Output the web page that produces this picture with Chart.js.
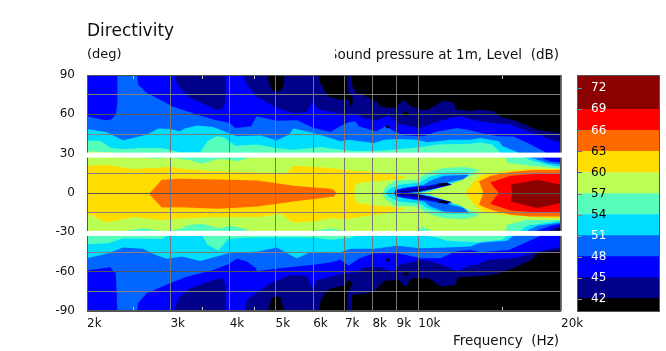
<!DOCTYPE html>
<html><head><meta charset="utf-8">
<style>html,body{margin:0;padding:0;background:#fff}#main{position:absolute;left:0;top:0}#bar{position:absolute;left:577px;top:75px}</style>
<script src="https://cdn.jsdelivr.net/npm/chart.js@4"></script></head>
<body><canvas id="main" width="666" height="351"></canvas><canvas id="bar" width="83" height="237"></canvas>
<script>
const FONT='"DejaVu Sans"';
const titleText='Directivity', yUnitText='(deg)', levelText='Sound pressure at 1m, Level  (dB)', freqText='Frequency  (Hz)';
const freqTicks=[2000,3000,4000,5000,6000,7000,8000,9000,10000,20000];
const minorFreqTicks=[2500,3500,4500,15000];
const angleLabels=[90,60,30,0,-30,-60,-90];
const maskedBands=[[27,30.8],[-32.7,-28.9]];
const levelColors={39:'#000000',42:'#000088',45:'#0000ff',48:'#0066ff',51:'#00ddff',54:'#55ffbb',57:'#bbff55',60:'#ffdd00',63:'#ff6a00',66:'#ff0000',69:'#8b0000'};
const scaleLabels=[72,69,66,63,60,57,54,51,48,45,42];
const scaleEdges=[40.1,42,45,48,51,54,57,60,63,66,69,73.9];
const scaleBandColors=['#000000','#000088','#0000ff','#0066ff','#00ddff','#55ffbb','#bbff55','#ffdd00','#ff6a00','#ff0000','#8b0000'];
const scaleLabelColors=['#fff','#fff','#fff','#000','#000','#000','#000','#fff','#fff','#fff','#fff'];
const scaleMarkColors=['#22aabb','#22aabb','#22aabb','#4477cc','#2255ff','#cc6633','#cc6644','#aa9966','#aa9933','#aa9933','#999999'];

const floorArea=[[2000,90],[20000,90],[20000,-90],[2000,-90]];
const level42=[[2000,90],[4807,90],[4850,84],[4900,79],[5034,77],[5150,79],[5200,83],[5213,90],[6140,90],[6210,84],[6456,73.8],[6844,71],[7100,71.8],[7160,68],[7230,65.6],[7280,68.7],[7250,73.3],[7130,76.4],[7100,79],[7070,90],[7230,90],[7260,81.5],[7390,77],[8150,70],[8350,65.6],[8930,64.9],[9315,71.2],[9550,67.4],[9795,64.9],[10440,63.1],[11320,70.5],[11890,68.7],[12000,63.6],[12880,62.3],[13320,63.6],[14440,62.4],[14910,58],[16180,54.7],[17690,48.4],[20000,45.3],[20000,-44.1],[17830,-45.2],[17540,-49.7],[16180,-56.1],[14910,-60.7],[14240,-62.5],[12880,-63.8],[12080,-64.3],[12000,-70.1],[11140,-71.4],[10520,-65],[9660,-65],[9420,-71.9],[9080,-66.3],[8470,-67],[8050,-75.7],[7390,-77.3],[7250,-78],[7230,-90],[7070,-90],[7090,-76],[7160,-73],[7280,-68.8],[7130,-66.3],[7010,-70.1],[6844,-71.4],[6524,-72.7],[6350,-76.5],[6230,-81.6],[6160,-90],[5213,-90],[5130,-80.3],[5034,-78.5],[4900,-80.3],[4810,-90],[2000,-90]];
const level45=[[2000,90],[3052,90],[3117,81.5],[3298,72.5],[3786,63.1],[3880,64.9],[3925,71.3],[3925,90],[4290,90],[4310,84],[4550,73.8],[5030,64.9],[5454,61],[5820,61.6],[5970,70],[6050,66],[6230,63.1],[6524,61.8],[6844,60.6],[7390,60.6],[7640,57.2],[8150,55.5],[8610,59],[8920,56],[9200,52.1],[10090,49.6],[10790,53.4],[11700,57.2],[12290,58.5],[12880,56],[14120,53.5],[15680,52.2],[16450,48.9],[18120,43.8],[18990,40.7],[20000,38.7],[20000,-41],[17690,-45.1],[16180,-49.2],[15160,-50.2],[13980,-51],[13320,-54.8],[12880,-55.3],[12080,-59.4],[11140,-54.3],[10270,-51],[9190,-54.3],[8800,-60.4],[8350,-56.6],[7670,-56.6],[7416,-60.4],[6844,-62],[6524,-63.8],[6103,-66.3],[5980,-72.7],[5820,-63],[5368,-62.5],[4870,-68.8],[4550,-76.5],[4346,-81.6],[4290,-90],[3925,-90],[3925,-70.1],[3880,-65],[3695,-66.3],[3298,-72.7],[3117,-80.3],[3052,-90],[2000,-90]];
const wedgeTopNavy=[[19510,28],[20000,25.4],[20000,28]];
const wedgeBottomNavy=[[18570,-29],[20000,-25],[20000,-29]];
const wedgeBottomBlack=[[19510,-29],[20000,-26.8],[20000,-29]];
const level48=[[2000,58.5],[2185,55.5],[2250,56],[2300,59.8],[2318,68.7],[2318,90],[2552,90],[2562,82.7],[2671,76.4],[2897,70],[3020,66.2],[3407,59.8],[3695,56],[4000,53.4],[4110,49.6],[4435,50.9],[4560,58.5],[5030,55.2],[5546,55.5],[6015,49.6],[6524,46.5],[6844,50.9],[7130,54],[7380,54.7],[7480,50.9],[8150,47],[8530,50.9],[8930,47],[9315,44],[10270,43.2],[10950,47],[12080,49.6],[12880,47.8],[13530,45.8],[14680,43.3],[15890,43],[16980,38.4],[18120,33],[18570,31],[18570,29],[18120,27],[19040,24.1],[20000,23.4],[20000,-23.5],[19040,-25],[17830,-28.6],[17830,-30],[18120,-32.7],[16720,-38.3],[15530,-43.4],[13530,-45.2],[12880,-43.5],[12000,-44.6],[11140,-49.7],[10130,-49.7],[9040,-45.9],[8050,-45.9],[7520,-49.7],[7130,-55.3],[6844,-51],[6524,-53],[6015,-54.8],[5113,-57.4],[4560,-59.4],[4550,-57.4],[4346,-52.3],[4145,-50.2],[3975,-54.3],[3695,-58.7],[3244,-63.8],[2995,-68.8],[2671,-76.5],[2562,-84.1],[2552,-90],[2318,-90],[2300,-61.2],[2236,-56.6],[2000,-59.2]];
const level51=[[2000,48.8],[2200,46.3],[2383,40.2],[2671,44.5],[2830,49.1],[2995,48.8],[3142,47],[3200,49],[3407,51.4],[3695,50.4],[3975,45.8],[4145,43.2],[4638,43.8],[5030,40.2],[5330,44.5],[5454,49.1],[6015,45.8],[6524,42],[6844,39.5],[7130,40.7],[8050,38.1],[8500,40.7],[9040,41.2],[9930,40.7],[10440,38.7],[11700,40.7],[12880,40.7],[13520,42],[14770,39.4],[15070,35.6],[16210,31],[16400,29],[17270,27],[18730,22.9],[20000,21.6],[20000,-22.5],[17830,-25],[16990,-28.6],[16990,-30],[15890,-32.5],[15400,-36.5],[13520,-38],[12880,-40.8],[11500,-41.6],[10100,-42.1],[9040,-40.3],[8050,-42.6],[7210,-42.6],[6844,-45.1],[6524,-45.9],[5917,-45.1],[5546,-49.7],[5368,-47.2],[5030,-41.6],[4600,-44.6],[3975,-45.9],[3755,-48.5],[3465,-51.8],[3170,-48.5],[2945,-50.2],[2790,-47.2],[2625,-42.6],[2383,-41.6],[2220,-45.9],[2000,-49.7]];
const level54=[[2000,39.9],[2130,39.9],[2250,34.3],[2383,33.6],[2625,34.3],[2875,34.3],[3142,31],[3465,31],[3590,39.4],[3755,43.2],[3880,42.7],[4110,36],[4578,36.9],[5000,34.3],[5454,33],[6230,35],[6524,34],[7416,31.8],[8500,32.5],[10130,35],[10950,36.9],[12880,37.6],[13520,38.6],[14320,36.9],[14910,31],[15100,29],[16720,27],[17270,24.9],[18730,21.6],[20000,19.8],[20000,-21.2],[16990,-25],[16450,-28.6],[16000,-30],[15410,-32.7],[15030,-35.7],[13320,-37.5],[11480,-36.5],[10950,-33.9],[10430,-32.7],[10000,-30],[7680,-30],[7170,-34.4],[6518,-35.7],[6015,-34],[4346,-34],[3975,-35],[3786,-43.9],[3590,-39.5],[3497,-32],[3300,-30],[3000,-31],[2875,-35],[2383,-34.5],[2220,-38.3],[2000,-39]];
const level57=[[2000,31.8],[2200,31],[2500,29],[2625,26.9],[2790,26.4],[2995,26.9],[3298,24.9],[3497,22.4],[3786,25.9],[4007,25.4],[4145,24.1],[4290,25.4],[4400,27.5],[15290,27.5],[15410,22.9],[17270,20.8],[20000,18.5],[20000,-20.5],[16850,-20.5],[15410,-24.3],[15290,-29],[10700,-29],[10180,-26],[9900,-29],[7000,-29],[6518,-26.8],[6000,-29],[4400,-29],[4290,-27],[4007,-25],[3786,-26.8],[3497,-23.5],[3298,-24.3],[3100,-28],[2875,-29],[2625,-26.8],[2400,-29],[2000,-29]];
const level60Left=[[2000,20.8],[2200,21.6],[2500,18.3],[2995,19.8],[3298,17.8],[3695,16.5],[4713,15.7],[5280,15.2],[5454,20.8],[6524,19],[7010,17.3],[7675,16.5],[8610,15.2],[9390,12.2],[9170,10.6],[8050,8.9],[7480,7.6],[7340,5],[7340,-5],[7480,-7.7],[8050,-9.5],[9170,-11.5],[9390,-12],[8610,-15.4],[7675,-17.9],[7010,-20],[6524,-19.2],[6015,-21.7],[5454,-22.5],[5113,-15.9],[4638,-18.4],[3695,-18.4],[3298,-19.2],[2849,-20.5],[2517,-18.4],[2200,-22.5],[2000,-15.9]];
const level60Right=[[12540,0],[12860,5],[13110,8.9],[13650,13.9],[15170,16.5],[17270,18.3],[20000,18.3],[20000,-19.2],[17270,-18.4],[15170,-16.6],[13650,-14.1],[13110,-9],[12860,-5]];
const level63Left=[[2715,0],[2875,10.1],[3142,10.9],[4007,10.1],[4578,9.6],[5454,5.5],[6524,3.2],[6625,2.5],[6710,0],[6625,-3.1],[6524,-3.1],[5454,-6.4],[4578,-10.3],[3786,-12],[3142,-10.8],[2875,-11],[2715,-1.3]];
const level63Right=[[13430,8.9],[14230,13.2],[15660,16],[17270,17.3],[20000,17.8],[20000,-17.9],[17270,-17.9],[15660,-16.6],[14230,-12.8],[13430,-9],[13720,0]];
const level66=[[14180,8.1],[15660,13.2],[17830,14.7],[20000,15.2],[20000,-15.4],[17830,-14.8],[15660,-13.3],[14180,-8.2],[14790,0]];
const level69=[[15660,6.3],[17830,10.1],[20000,6.3],[20000,-7.7],[17830,-11.5],[15660,-6.4],[15790,0]];
const dip54=[[8390,0],[8540,5],[8960,9.6],[9940,10.1],[10430,15.2],[11320,19],[12480,19.8],[13430,17.8],[12900,12.7],[12080,8.9],[11320,5],[10610,1.2],[10100,0],[10610,-1.3],[11320,-5.2],[12080,-9],[12900,-13.3],[13430,-17.4],[12480,-20],[11320,-19.2],[10430,-15.4],[9940,-10.3],[8960,-9.8],[8540,-5.2]];
const dip51=[[8540,0],[8680,3],[9100,6.3],[10100,8.1],[10520,12.2],[11500,15.7],[12790,15.7],[12380,10.1],[11500,6.3],[10430,1.2],[10020,0],[10430,-1.3],[11500,-6.4],[12380,-10.3],[12790,-15.9],[11500,-15.9],[10520,-12],[10100,-8.2],[9100,-6.4],[8680,-3]];
const dip48=[[8960,1.2],[9250,3.8],[10270,6.3],[10610,9.6],[11320,13.2],[12790,13.9],[12480,10.6],[11320,7.6],[10180,1.2],[9620,0],[10180,-1.3],[11320,-7.7],[12480,-11.5],[12790,-14.8],[11320,-14.1],[10610,-10.3],[10270,-6.4],[9250,-3.9],[8960,-1.3]];
const dip45=[[8960,2.5],[9620,4.3],[10430,5.5],[11500,8.1],[11780,6.3],[10610,2.5],[9470,0],[10610,-2.6],[11780,-6.9],[11500,-8.5],[10430,-5.7],[9620,-4.4],[8960,-2.5],[8890,0]];
const dip42Top=[[9100,2],[9940,3],[11500,7.6],[11600,6.3],[10100,1.2],[9100,0.8]];
const dip42Bottom=[[9100,-0.8],[10100,-1.3],[11600,-6.9],[11500,-7.9],[9940,-3],[9100,-2]];
const dipFloorTop=[[10950,7],[11500,7.8],[11650,6.3],[11140,5.8]];
const dipFloorBottom=[[10950,-7.2],[11500,-7.9],[11650,-6.4],[11140,-5.9]];
const spotA=[[9280,60.6],[9420,63],[9550,60.6],[9420,58.2]];
const spotB=[[8520,50.4],[8620,51.6],[8720,50.4],[8620,49.2]];
const spotC=[[8520,-51],[8620,-49.8],[8720,-51],[8620,-52.2]];
const spotD=[[9280,-61.7],[9420,-60],[9550,-61.7],[9420,-63.4]];

const contourList=[[39,floorArea],[42,level42],[45,level45],[42,wedgeTopNavy],[42,wedgeBottomNavy],[39,wedgeBottomBlack],[48,level48],[51,level51],[54,level54],[57,level57],[60,level60Left],[60,level60Right],[63,level63Left],[63,level63Right],[66,level66],[69,level69],[54,dip54],[51,dip51],[48,dip48],[45,dip45],[42,dip42Top],[42,dip42Bottom],[39,dipFloorTop],[39,dipFloorBottom],[39,spotA],[39,spotB],[39,spotC],[39,spotD]];

const contourPlugin={id:'contourFill',
 beforeDatasetsDraw(c){const a=c.chartArea,g=c.ctx;g.save();g.beginPath();g.rect(a.left,a.top,a.width,a.height);g.clip();
  c.data.datasets.forEach((d,i)=>{const pts=c.getDatasetMeta(i).data;if(!pts.length)return;g.beginPath();pts.forEach((p,k)=>k?g.lineTo(p.x,p.y):g.moveTo(p.x,p.y));g.closePath();g.fillStyle=d.backgroundColor;g.fill();});
  g.restore();},
 afterDraw(c){const a=c.chartArea,g=c.ctx,x=c.scales.x,y=c.scales.y;g.save();
  g.strokeStyle='#c8c8c8';g.lineWidth=1;
  minorFreqTicks.forEach(f=>{const px=Math.round(x.getPixelForValue(f))+.5;g.beginPath();g.moveTo(px,a.top);g.lineTo(px,a.top+4);g.moveTo(px,a.bottom-4);g.lineTo(px,a.bottom);g.stroke();});
  g.strokeStyle='#555';g.strokeRect(a.left+.5,a.top+.5,a.width-1,a.height-1);
  g.fillStyle='#fff';
  maskedBands.forEach(b=>{const t=y.getPixelForValue(b[1]),u=y.getPixelForValue(b[0]);g.fillRect(a.left-1,t,a.width+2,u-t);});
  g.fillStyle='#111';g.textBaseline='middle';g.textAlign='left';
  g.font='17px '+FONT;g.fillText(titleText,87,32);
  g.font='13px '+FONT;g.fillText(yUnitText,87,55);
  g.font='13.5px '+FONT;
  g.save();g.beginPath();g.rect(335,40,240,30);g.clip();g.textAlign='right';g.fillText(levelText,559,55);g.restore();
  g.textAlign='right';g.fillText(freqText,559,341);
  g.restore();}};

const angleSet=new Set(angleLabels);
new Chart(document.getElementById('main'),{type:'scatter',plugins:[contourPlugin],
 data:{datasets:contourList.map(([lv,pts])=>({label:String(lv),data:pts.map(p=>({x:p[0],y:p[1]})),backgroundColor:levelColors[lv],borderColor:levelColors[lv],pointRadius:0,showLine:false}))},
 options:{responsive:false,animation:false,devicePixelRatio:1,
  layout:{padding:{top:75,right:105,left:0,bottom:0}},
  plugins:{legend:{display:false},title:{display:false},tooltip:{enabled:false}},
  scales:{
   x:{type:'logarithmic',min:2000,max:20000,
    afterBuildTicks(s){s.ticks=freqTicks.map(v=>({value:v}));},
    afterFit(s){s.height=40;s.paddingLeft=0;s.paddingRight=0;},
    border:{display:false},
    grid:{z:1,color:'#777',drawTicks:false,lineWidth:1},
    ticks:{autoSkip:false,maxRotation:0,align:'start',padding:6,color:'#111',font:{family:'DejaVu Sans',size:12},callback:v=>(v/1000)+'k'}},
   y:{type:'linear',min:-90,max:90,
    afterBuildTicks(s){const t=[];for(let v=90;v>=-90;v-=15)t.push({value:v});s.ticks=t;},
    afterFit(s){s.width=87;s.paddingTop=0;s.paddingBottom=0;},
    border:{display:false},
    grid:{z:1,color:k=>k.tick&&k.tick.value%30===0?'#555':'#808080',drawTicks:false,lineWidth:1},
    ticks:{autoSkip:false,padding:12,color:'#111',font:{family:'DejaVu Sans',size:12},callback:v=>angleSet.has(v)?String(v):''}}
  }}});

const barPlugin={id:'barMarks',afterDraw(c){const g=c.ctx,a=c.chartArea,y=c.scales.y;g.save();
  scaleLabels.forEach((v,i)=>{const p=Math.round(y.getPixelForValue(v))+.5;g.strokeStyle=scaleMarkColors[i];g.beginPath();g.moveTo(a.left,p);g.lineTo(a.left+5,p);g.stroke();});
  g.strokeStyle='#555';g.strokeRect(a.left+.5,a.top+.5,a.width-1,a.height-1);g.restore();}};
new Chart(document.getElementById('bar'),{type:'bar',plugins:[barPlugin],
 data:{labels:['dB'],datasets:scaleBandColors.map((col,i)=>({label:String(scaleEdges[i]),data:[[scaleEdges[i],scaleEdges[i+1]]],backgroundColor:col,borderWidth:0,barPercentage:1,categoryPercentage:1,grouped:false}))},
 options:{responsive:false,animation:false,devicePixelRatio:1,layout:{padding:0},
  plugins:{legend:{display:false},title:{display:false},tooltip:{enabled:false}},
  scales:{
   x:{display:false,offset:true},
   y:{min:40.1,max:73.9,position:'left',
    afterBuildTicks(s){s.ticks=scaleLabels.map(v=>({value:v}));},
    afterFit(s){s.width=0;s.paddingTop=0;s.paddingBottom=0;},
    border:{display:false},grid:{display:false},
    ticks:{z:2,mirror:true,padding:14,autoSkip:false,font:{family:'DejaVu Sans',size:12},color:k=>scaleLabelColors[k.index]}}
  }}});
</script></body></html>
